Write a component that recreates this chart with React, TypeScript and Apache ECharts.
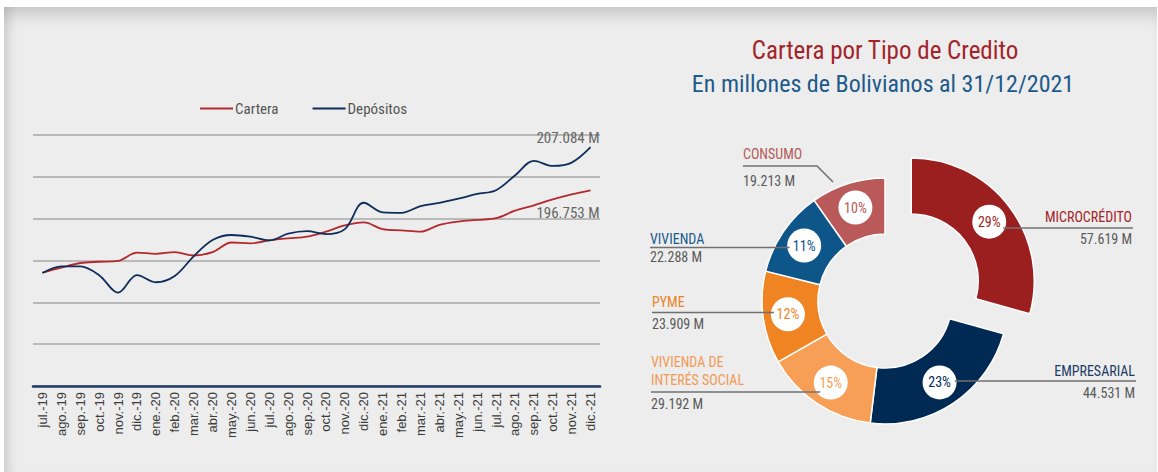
import React, { useEffect, useRef } from "react";
import * as echarts from "echarts";

const MONTHS = [
  "jul.-19", "ago.-19", "sep.-19", "oct.-19", "nov.-19", "dic.-19",
  "ene.-20", "feb.-20", "mar.-20", "abr.-20", "may.-20", "jun.-20",
  "jul.-20", "ago.-20", "sep.-20", "oct.-20", "nov.-20", "dic.-20",
  "ene.-21", "feb.-21", "mar.-21", "abr.-21", "may.-21", "jun.-21",
  "jul.-21", "ago.-21", "sep.-21", "oct.-21", "nov.-21", "dic.-21",
];

const CARTERA = [
  177.1, 178.3, 179.4, 179.7, 179.9, 181.9, 181.6, 182.0, 181.2, 182.0,
  184.3, 184.1, 184.8, 185.3, 185.7, 186.9, 188.4, 189.1, 187.5, 187.2,
  186.9, 188.5, 189.3, 189.7, 190.1, 191.9, 193.2, 194.6, 195.8, 196.753,
];

const DEPOSITOS = [
  177.0, 178.6, 178.6, 176.5, 172.3, 176.5, 174.8, 176.3, 181.0, 184.9,
  186.1, 185.7, 184.8, 186.4, 187.0, 186.3, 187.5, 193.8, 191.5, 191.4,
  193.0, 193.8, 194.8, 195.9, 196.8, 200.3, 203.8, 202.6, 203.4, 207.084,
];

const TIPOS = ["MICROCRÉDITO", "EMPRESARIAL", "VIVIENDA DE\nINTERÉS SOCIAL", "PYME", "VIVIENDA", "CONSUMO"];
const MONTOS = [57.619, 44.531, 29.192, 23.909, 22.288, 19.213];
const SLICE_COLORS = ["#9C1F1F", "#002A54", "#F79F57", "#F08423", "#0E5689", "#B95959"];
const NAME_COLORS = ["#A3242A", "#1E3A66", "#F29A55", "#EE8327", "#1B5A8C", "#B65A5A"];

const NARROW = "'Liberation Sans Narrow', 'Roboto Condensed', 'DejaVu Sans Condensed', 'Arial Narrow', sans-serif";

// pie geometry
const PIE_C = [885, 301];
const R0 = 67;
const R1 = 123;
const SEL_OFFSET = 33;
const BADGE_R = 17;

const LABEL_LAYOUT: any[] = [
  { x: 1132, side: "right", nameY: 217, lineY: 228, valueY: 239, lineEnd: 1133 },
  { x: 1135, side: "right", nameY: 371, lineY: 381, valueY: 393, lineEnd: 1136 },
  { x: 651, side: "left", nameY: 371, lineY: 392, valueY: 404, lineEnd: 651 },
  { x: 652, side: "left", nameY: 302, lineY: 312.5, valueY: 324, lineEnd: 652 },
  { x: 650, side: "left", nameY: 239, lineY: 247.5, valueY: 257, lineEnd: 650 },
  { x: 743, side: "left", nameY: 154, lineY: 166, valueY: 181, lineEnd: 743, elbow: [817, 166, 833, 182] },
];

function fmtM(v: number) {
  return v.toFixed(3) + " M";
}

export default function App() {
  const ref = useRef<HTMLDivElement>(null);

  useEffect(() => {
    document.body.style.margin = "0";
    const chart = echarts.init(ref.current!, undefined, { renderer: "svg" });

    const total = MONTOS.reduce((a, b) => a + b, 0);
    let acc = 0;
    const badges = MONTOS.map((v, i) => {
      const a0 = (acc / total) * 2 * Math.PI;
      acc += v;
      const a1 = (acc / total) * 2 * Math.PI;
      const mid = (a0 + a1) / 2;
      const off = i === 0 ? SEL_OFFSET : 0;
      const r = (R0 + R1) / 2 + off;
      return [PIE_C[0] + r * Math.sin(mid), PIE_C[1] - r * Math.cos(mid)];
    });

    const graphics: any[] = [];
    TIPOS.forEach((name, i) => {
      const L = LABEL_LAYOUT[i];
      const [bx, by] = badges[i];
      const isRight = L.side === "right";
      graphics.push({
        type: "text",
        z: 5,
        style: {
          x: L.x,
          y: L.nameY,
          text: name,
          fill: NAME_COLORS[i],
          font: `14px ${NARROW}`,
          align: isRight ? "right" : "left",
          verticalAlign: "middle",
          lineHeight: 18,
        },
      });
      graphics.push({
        type: "text",
        z: 5,
        style: {
          x: L.x,
          y: L.valueY,
          text: fmtM(MONTOS[i]),
          fill: "#5A5A5A",
          font: `14px ${NARROW}`,
          align: isRight ? "right" : "left",
          verticalAlign: "middle",
        },
      });
      let pts: number[][];
      if (L.elbow) {
        pts = [[L.lineEnd, L.lineY], [L.elbow[0], L.elbow[1]], [L.elbow[2], L.elbow[3]]];
      } else {
        const dy = L.lineY - by;
        const dx = Math.sqrt(Math.max(BADGE_R * BADGE_R - dy * dy, 0));
        const inner = isRight ? bx + dx : bx - dx;
        pts = [[L.lineEnd, L.lineY], [inner, L.lineY]];
      }
      graphics.push({
        type: "polyline",
        z: 5,
        shape: { points: pts },
        style: { stroke: "#707070", lineWidth: 1.5, fill: "none" },
      });
    });

    const option: any = {
      animation: false,
      backgroundColor: "transparent",
      title: [
        {
          text: "Cartera por Tipo de Credito",
          left: 880,
          top: 33,
          textAlign: "center",
          textStyle: { color: "#A3232A", fontSize: 25, fontWeight: "normal", fontFamily: NARROW },
        },
        {
          text: "En millones de Bolivianos al 31/12/2021",
          left: 878,
          top: 67,
          textAlign: "center",
          textStyle: { color: "#1D5A8A", fontSize: 24, fontWeight: "normal", fontFamily: NARROW },
        },
      ],
      legend: {
        data: ["Cartera", "Depósitos"],
        left: 195,
        top: 96,
        icon: "rect",
        itemWidth: 33,
        itemHeight: 2,
        itemGap: 34,
        textStyle: { color: "#555", fontSize: 15, fontFamily: NARROW, padding: [0, 0, 0, -3] },
      },
      grid: { left: 33, right: 558, top: 135, bottom: 86, containLabel: false },
      xAxis: {
        type: "category",
        data: MONTHS,
        boundaryGap: true,
        axisLine: { lineStyle: { color: "#1F3A64", width: 2.5 } },
        axisTick: { show: false },
        axisLabel: {
          interval: 0,
          rotate: 90,
          margin: 6,
          color: "#3C3C3C",
          fontSize: 13,
          fontFamily: "'Liberation Sans', Arial, sans-serif",
        },
      },
      yAxis: {
        type: "value",
        min: 150,
        max: 210,
        interval: 10,
        axisLabel: { show: false },
        axisLine: { show: false },
        axisTick: { show: false },
        splitLine: { lineStyle: { color: "#A8A8A8", width: 1.5 } },
      },
      series: [
        {
          name: "Cartera",
          type: "line",
          data: CARTERA,
          smooth: 0.35,
          symbol: "none",
          color: "#B3292E",
          lineStyle: { width: 1.8, color: "#B3292E" },
          endLabel: {
            show: true,
            formatter: (p: any) => fmtM(p.value),
            align: "right",
            offset: [1, 23],
            color: "#666",
            fontSize: 15,
            fontFamily: NARROW,
          },
          z: 3,
        },
        {
          name: "Depósitos",
          type: "line",
          data: DEPOSITOS,
          smooth: 0.35,
          symbol: "none",
          color: "#0E2D5A",
          lineStyle: { width: 1.8, color: "#0E2D5A" },
          endLabel: {
            show: true,
            formatter: (p: any) => fmtM(p.value),
            align: "right",
            offset: [1, -9],
            color: "#666",
            fontSize: 15,
            fontFamily: NARROW,
          },
          z: 3,
        },
        {
          name: "Tipo",
          type: "pie",
          center: PIE_C,
          radius: [R0, R1],
          startAngle: 90,
          clockwise: true,
          selectedMode: "single",
          selectedOffset: SEL_OFFSET,
          emphasis: { disabled: true },
          silent: true,
          itemStyle: { borderColor: "#fff", borderWidth: 1.5 },
          label: {
            show: true,
            position: "inside",
            formatter: (p: any) => Math.round(p.percent) + "%",
            backgroundColor: "#fff",
            width: 34,
            height: 34,
            lineHeight: 34,
            borderRadius: 17,
            align: "center",
            verticalAlign: "middle",
            fontSize: 14,
            fontFamily: NARROW,
          },
          labelLine: { show: false },
          data: TIPOS.map((n, i) => ({
            name: n,
            value: MONTOS[i],
            selected: i === 0,
            itemStyle: { color: SLICE_COLORS[i] },
            label: { color: SLICE_COLORS[i] },
          })),
        },
      ],
      graphic: graphics,
    };

    chart.setOption(option);
    return () => chart.dispose();
  }, []);

  return (
    <div style={{ position: "relative", width: 1158, height: 472, background: "#fff", overflow: "hidden" }}>
      <div
        style={{
          position: "absolute",
          left: 4,
          top: 7,
          width: 1153,
          height: 465,
          background: "#ECEDEC",
          boxShadow: "inset 0 16px 16px -8px rgba(0,0,0,0.16), inset 12px 0 10px -6px rgba(0,0,0,0.10)",
        }}
      />
      <div ref={ref} style={{ position: "absolute", left: 0, top: 0, width: 1158, height: 472 }} />
    </div>
  );
}
